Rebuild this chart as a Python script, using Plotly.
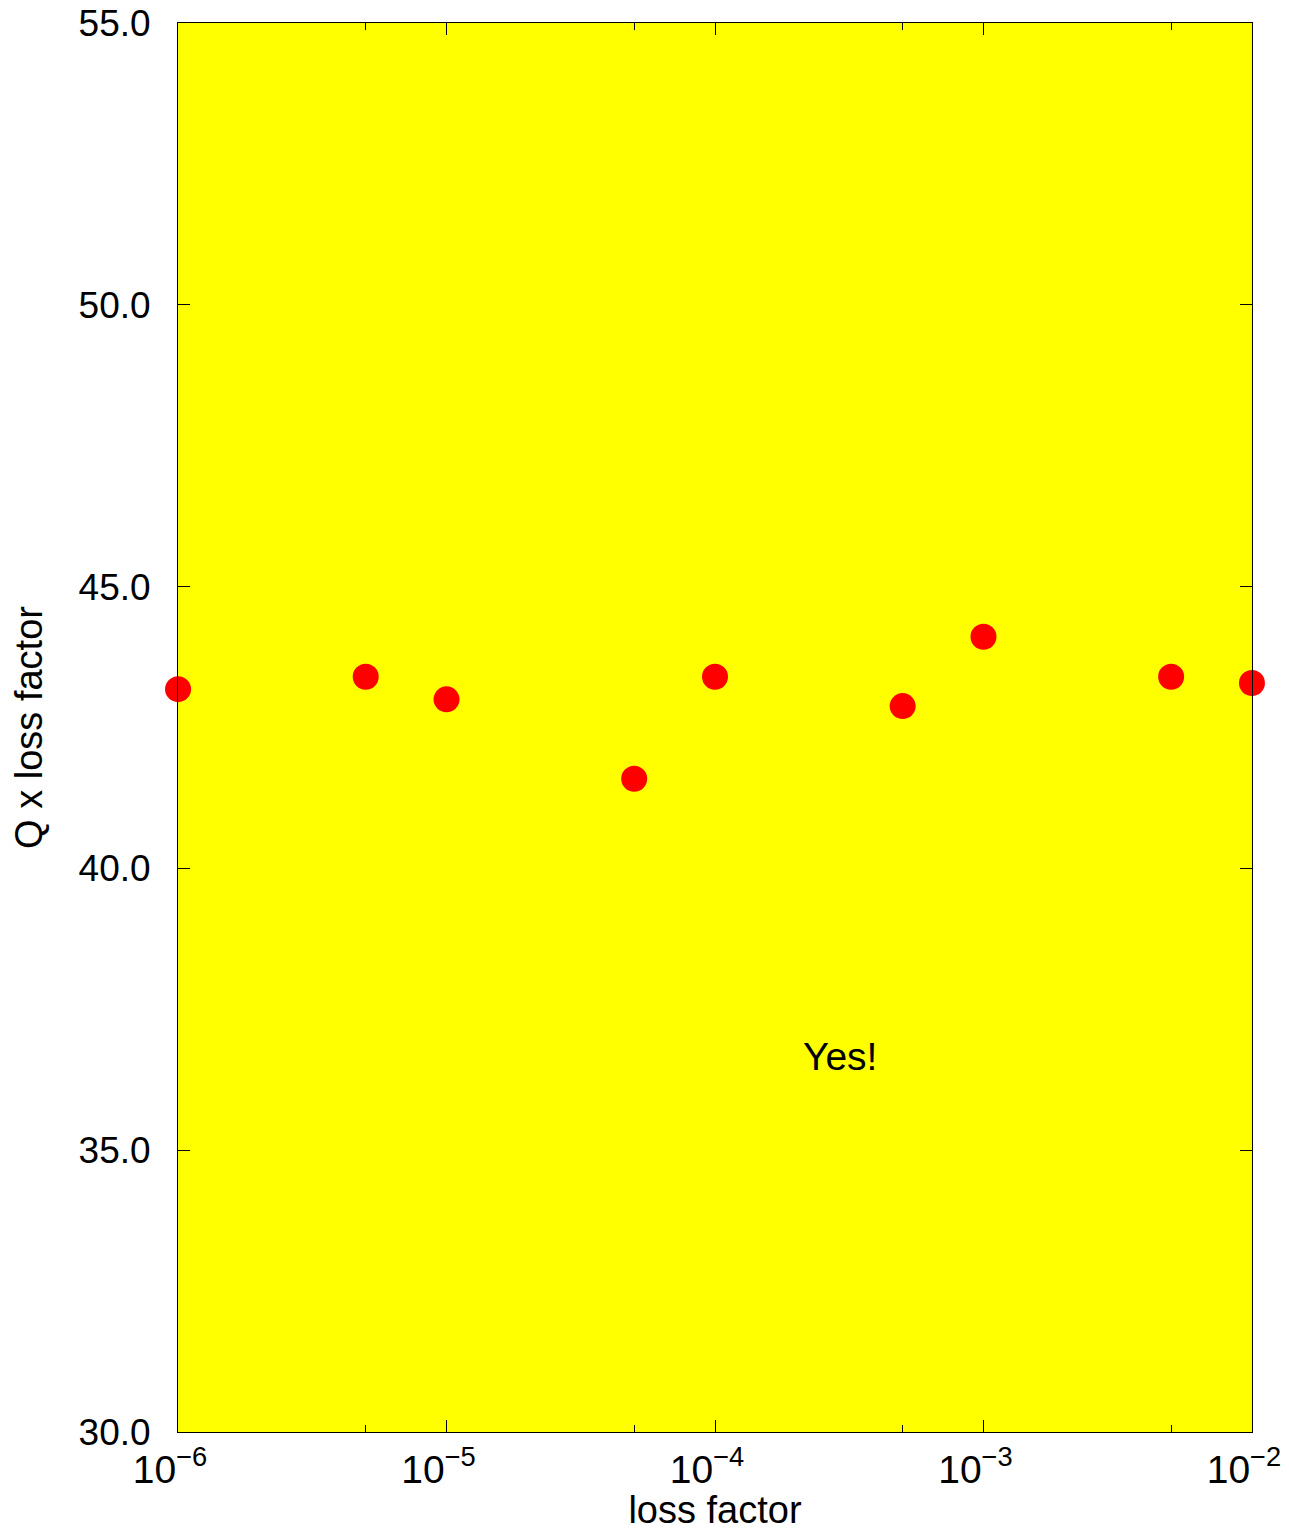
import plotly.graph_objects as go
import numpy as np

loss_factor = [1e-6, 5e-6, 1e-5, 5e-5, 1e-4, 5e-4, 1e-3, 5e-3, 1e-2]
q_times_loss = [43.18, 43.40, 43.00, 41.59, 43.40, 42.88, 44.11, 43.40, 43.29]

x_tickvals = [1e-6, 1e-5, 1e-4, 1e-3, 1e-2]
x_ticktext = ["10<sup>\u22126</sup>", "10<sup>\u22125</sup>", "10<sup>\u22124</sup>",
              "10<sup>\u22123</sup>", "10<sup>\u22122</sup>"]
x_minor = [5e-6, 5e-5, 5e-4, 5e-3]
y_tickvals = [30, 35, 40, 45, 50, 55]

FONT = "Liberation Sans, Arial, sans-serif"

fig = go.Figure()
fig.add_trace(go.Scatter(
    x=loss_factor, y=q_times_loss, mode="markers",
    marker=dict(color="#ff0000", size=26, line=dict(width=0)),
    cliponaxis=False, showlegend=False,
))

fig.add_annotation(x=np.log10(10**-3.534), y=36.67, text="Yes!", showarrow=False,
                   font=dict(family=FONT, size=39, color="black"))

fig.update_layout(
    width=1273, height=1523,
    margin=dict(l=170, r=29, t=15, b=99),
    plot_bgcolor="#ffff00", paper_bgcolor="white",
    font=dict(family=FONT, color="black"),
)
fig.update_xaxes(
    type="log", range=[-6.0002, -1.9998], automargin=False,
    tickvals=x_tickvals, ticktext=x_ticktext, ticklabeloverflow="allow",
    ticklabelshift=-8,
    ticks="inside", ticklen=12, tickwidth=1, tickcolor="black",
    minor=dict(tickvals=x_minor, ticks="inside", ticklen=7, tickwidth=1, tickcolor="black"),
    showline=True, linecolor="black", linewidth=1, mirror="ticks",
    showgrid=False, zeroline=False,
    tickfont=dict(family=FONT, size=39), ticklabelstandoff=3,
    title=dict(text="loss factor", font=dict(family=FONT, size=38), standoff=19),
)
fig.update_yaxes(
    range=[30, 55], tickvals=y_tickvals, tickformat=".1f", automargin=False,
    ticklabeloverflow="allow",
    ticks="inside", ticklen=12, tickwidth=1, tickcolor="black",
    showline=True, linecolor="black", linewidth=1, mirror="ticks",
    showgrid=False, zeroline=False,
    tickfont=dict(family=FONT, size=37), ticklabelstandoff=19,
    title=dict(text="Q x loss factor", font=dict(family=FONT, size=38), standoff=24),
)

fig.write_html("out.html")
